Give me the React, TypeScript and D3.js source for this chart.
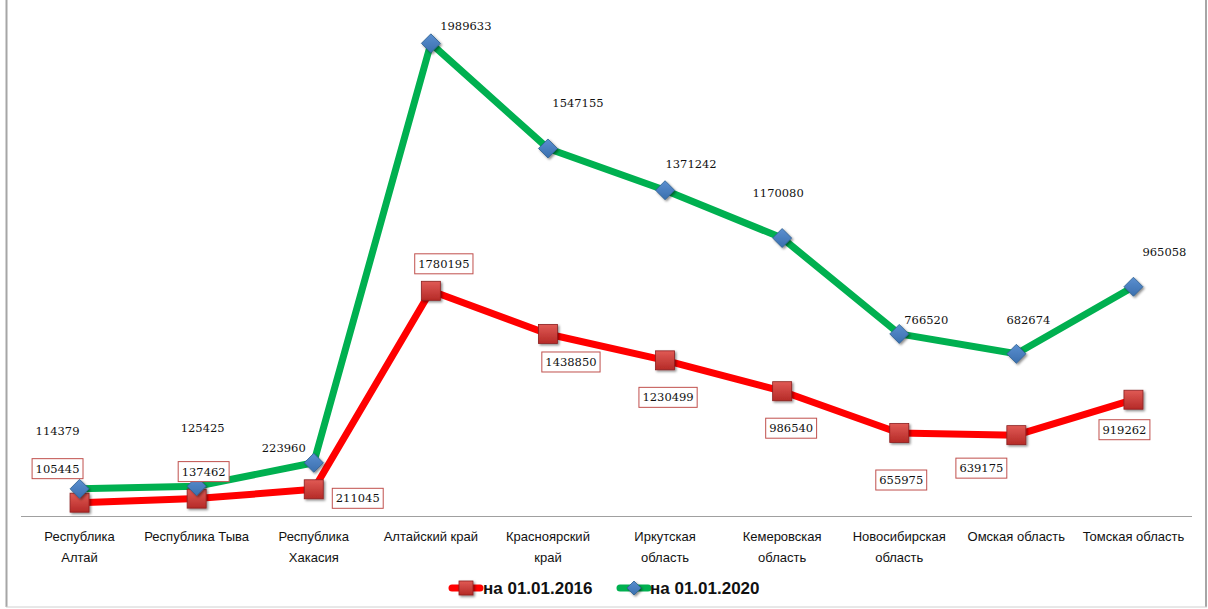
import React from "react";
import * as d3 from "d3";

// ---- data ----
const categories: string[] = [
  "Республика\nАлтай",
  "Республика Тыва",
  "Республика\nХакасия",
  "Алтайский край",
  "Красноярский\nкрай",
  "Иркутская\nобласть",
  "Кемеровская\nобласть",
  "Новосибирская\nобласть",
  "Омская область",
  "Томская область",
];
const values2016: number[] = [105445, 137462, 211045, 1780195, 1438850, 1230499, 986540, 655975, 639175, 919262];
const values2020: number[] = [114379, 125425, 223960, 1989633, 1547155, 1371242, 1170080, 766520, 682674, 965058];
const seriesNames: string[] = ["на 01.01.2016", "на 01.01.2020"];

// label offsets (layout)
const off2016: [number, number][] = [[-22, -34], [7, -27], [44, 9], [13, -27], [23, 28], [3, 37], [9, 37], [2, 47], [-35, 33], [-9, 30]];
const off2020: [number, number][] = [[-22, -58], [6, -58], [-30, -15], [35, -17], [30, -45], [26, -26], [-4, -45], [27, -14], [12, -34], [31, -35]];

const W = 1208;
const H = 609;

export default function App() {
  const x = d3.scaleBand<string>().domain(categories).range([21, 1192]).padding(0);
  const xc = (i: number) => (x(categories[i]) as number) + x.bandwidth() / 2;
  const yG = d3.scaleLinear().domain([0, 2130000]).range([516, 10]);
  const yR = d3.scaleLinear().domain([0, 4000000]).range([516, 10]);

  const lineG = d3.line<number>().x((_, i) => xc(i)).y((d) => yG(d));
  const lineR = d3.line<number>().x((_, i) => xc(i)).y((d) => yR(d));

  const valueFont = "'DejaVu Serif', serif";
  const sansFont = "'Liberation Sans', Arial, sans-serif";

  const redSquare = (cx: number, cy: number, s: number, key?: string | number) => (
    <rect key={key} x={cx - s / 2} y={cy - s / 2} width={s} height={s}
      fill="url(#redGrad)" stroke="#8c1f1f" strokeWidth={0.8} filter="url(#shadow)" />
  );
  const blueDiamond = (cx: number, cy: number, s: number, key?: string | number) => (
    <path key={key}
      d={`M${cx},${cy - s / 2}L${cx + s / 2},${cy}L${cx},${cy + s / 2}L${cx - s / 2},${cy}Z`}
      fill="url(#blueGrad)" stroke="#2d5f8f" strokeWidth={0.8} filter="url(#shadow)" />
  );

  return (
    <div style={{ position: "fixed", left: 0, top: 0 }}>
      <svg width={W} height={H} style={{ display: "block", background: "#fff" }}>
        <defs>
          <linearGradient id="redGrad" x1="0" y1="0" x2="0" y2="1">
            <stop offset="0" stopColor="#e05a55" />
            <stop offset="1" stopColor="#b52a27" />
          </linearGradient>
          <linearGradient id="blueGrad" x1="0" y1="0" x2="0" y2="1">
            <stop offset="0" stopColor="#5b8fd0" />
            <stop offset="1" stopColor="#3a6fae" />
          </linearGradient>
          <filter id="shadow" x="-50%" y="-50%" width="200%" height="200%">
            <feDropShadow dx="1.5" dy="1.5" stdDeviation="1" floodColor="#000" floodOpacity="0.45" />
          </filter>
        </defs>

        {/* frame */}
        <line x1={6.5} y1={0} x2={6.5} y2={607} stroke="#a6a6a6" strokeWidth={2} />
        <line x1={1206} y1={0} x2={1206} y2={607} stroke="#a6a6a6" strokeWidth={2} />
        <line x1={6} y1={607} x2={1207} y2={607} stroke="#d0d0d0" strokeWidth={1} />

        {/* axis */}
        <line x1={21} y1={516.5} x2={1192} y2={516.5} stroke="#a0a0a0" strokeWidth={1.2} />

        {/* category labels */}
        {categories.map((c, i) => (
          <text key={c} x={xc(i)} y={541} textAnchor="middle" fontFamily={sansFont} fontSize={13} fill="#111">
            {c.split("\n").map((ln, j) => (
              <tspan key={j} x={xc(i)} dy={j === 0 ? 0 : 21}>{ln}</tspan>
            ))}
          </text>
        ))}

        {/* lines */}
        <path d={lineG(values2020) || ""} fill="none" stroke="#00b050" strokeWidth={7} strokeLinejoin="round" />
        <path d={lineR(values2016) || ""} fill="none" stroke="#ff0000" strokeWidth={7} strokeLinejoin="round" />

        {/* markers */}
        {values2016.map((v, i) => redSquare(xc(i), yR(v), 19, "r" + i))}
        {values2020.map((v, i) => blueDiamond(xc(i), yG(v), 19, "g" + i))}

        {/* labels 2020 (no box) */}
        {values2020.map((v, i) => (
          <text key={"lg" + i} x={xc(i) + off2020[i][0]} y={yG(v) + off2020[i][1] + 4}
            textAnchor="middle" fontFamily={valueFont} fontSize={11.5} fill="#111">
            {String(v)}
          </text>
        ))}

        {/* labels 2016 (boxed) */}
        {values2016.map((v, i) => {
          const s = String(v);
          const w = s.length * 7.32 + 7;
          const cx = xc(i) + off2016[i][0];
          const cy = yR(v) + off2016[i][1];
          return (
            <g key={"lr" + i}>
              <rect x={cx - w / 2} y={cy - 10} width={w} height={20} fill="#fff" stroke="#c0504d" strokeWidth={1} />
              <text x={cx} y={cy + 4} textAnchor="middle" fontFamily={valueFont} fontSize={11.5} fill="#111">{s}</text>
            </g>
          );
        })}

        {/* legend */}
        <line x1={452} y1={588} x2={480} y2={588} stroke="#ff0000" strokeWidth={7} strokeLinecap="round" />
        {redSquare(466, 588, 14)}
        <text x={483} y={594} fontFamily={sansFont} fontWeight="bold" fontSize={17} fill="#111">{seriesNames[0]}</text>
        <line x1={620} y1={588} x2={648} y2={588} stroke="#00b050" strokeWidth={7} strokeLinecap="round" />
        {blueDiamond(634, 588, 14)}
        <text x={650} y={594} fontFamily={sansFont} fontWeight="bold" fontSize={17} fill="#111">{seriesNames[1]}</text>
      </svg>
    </div>
  );
}
